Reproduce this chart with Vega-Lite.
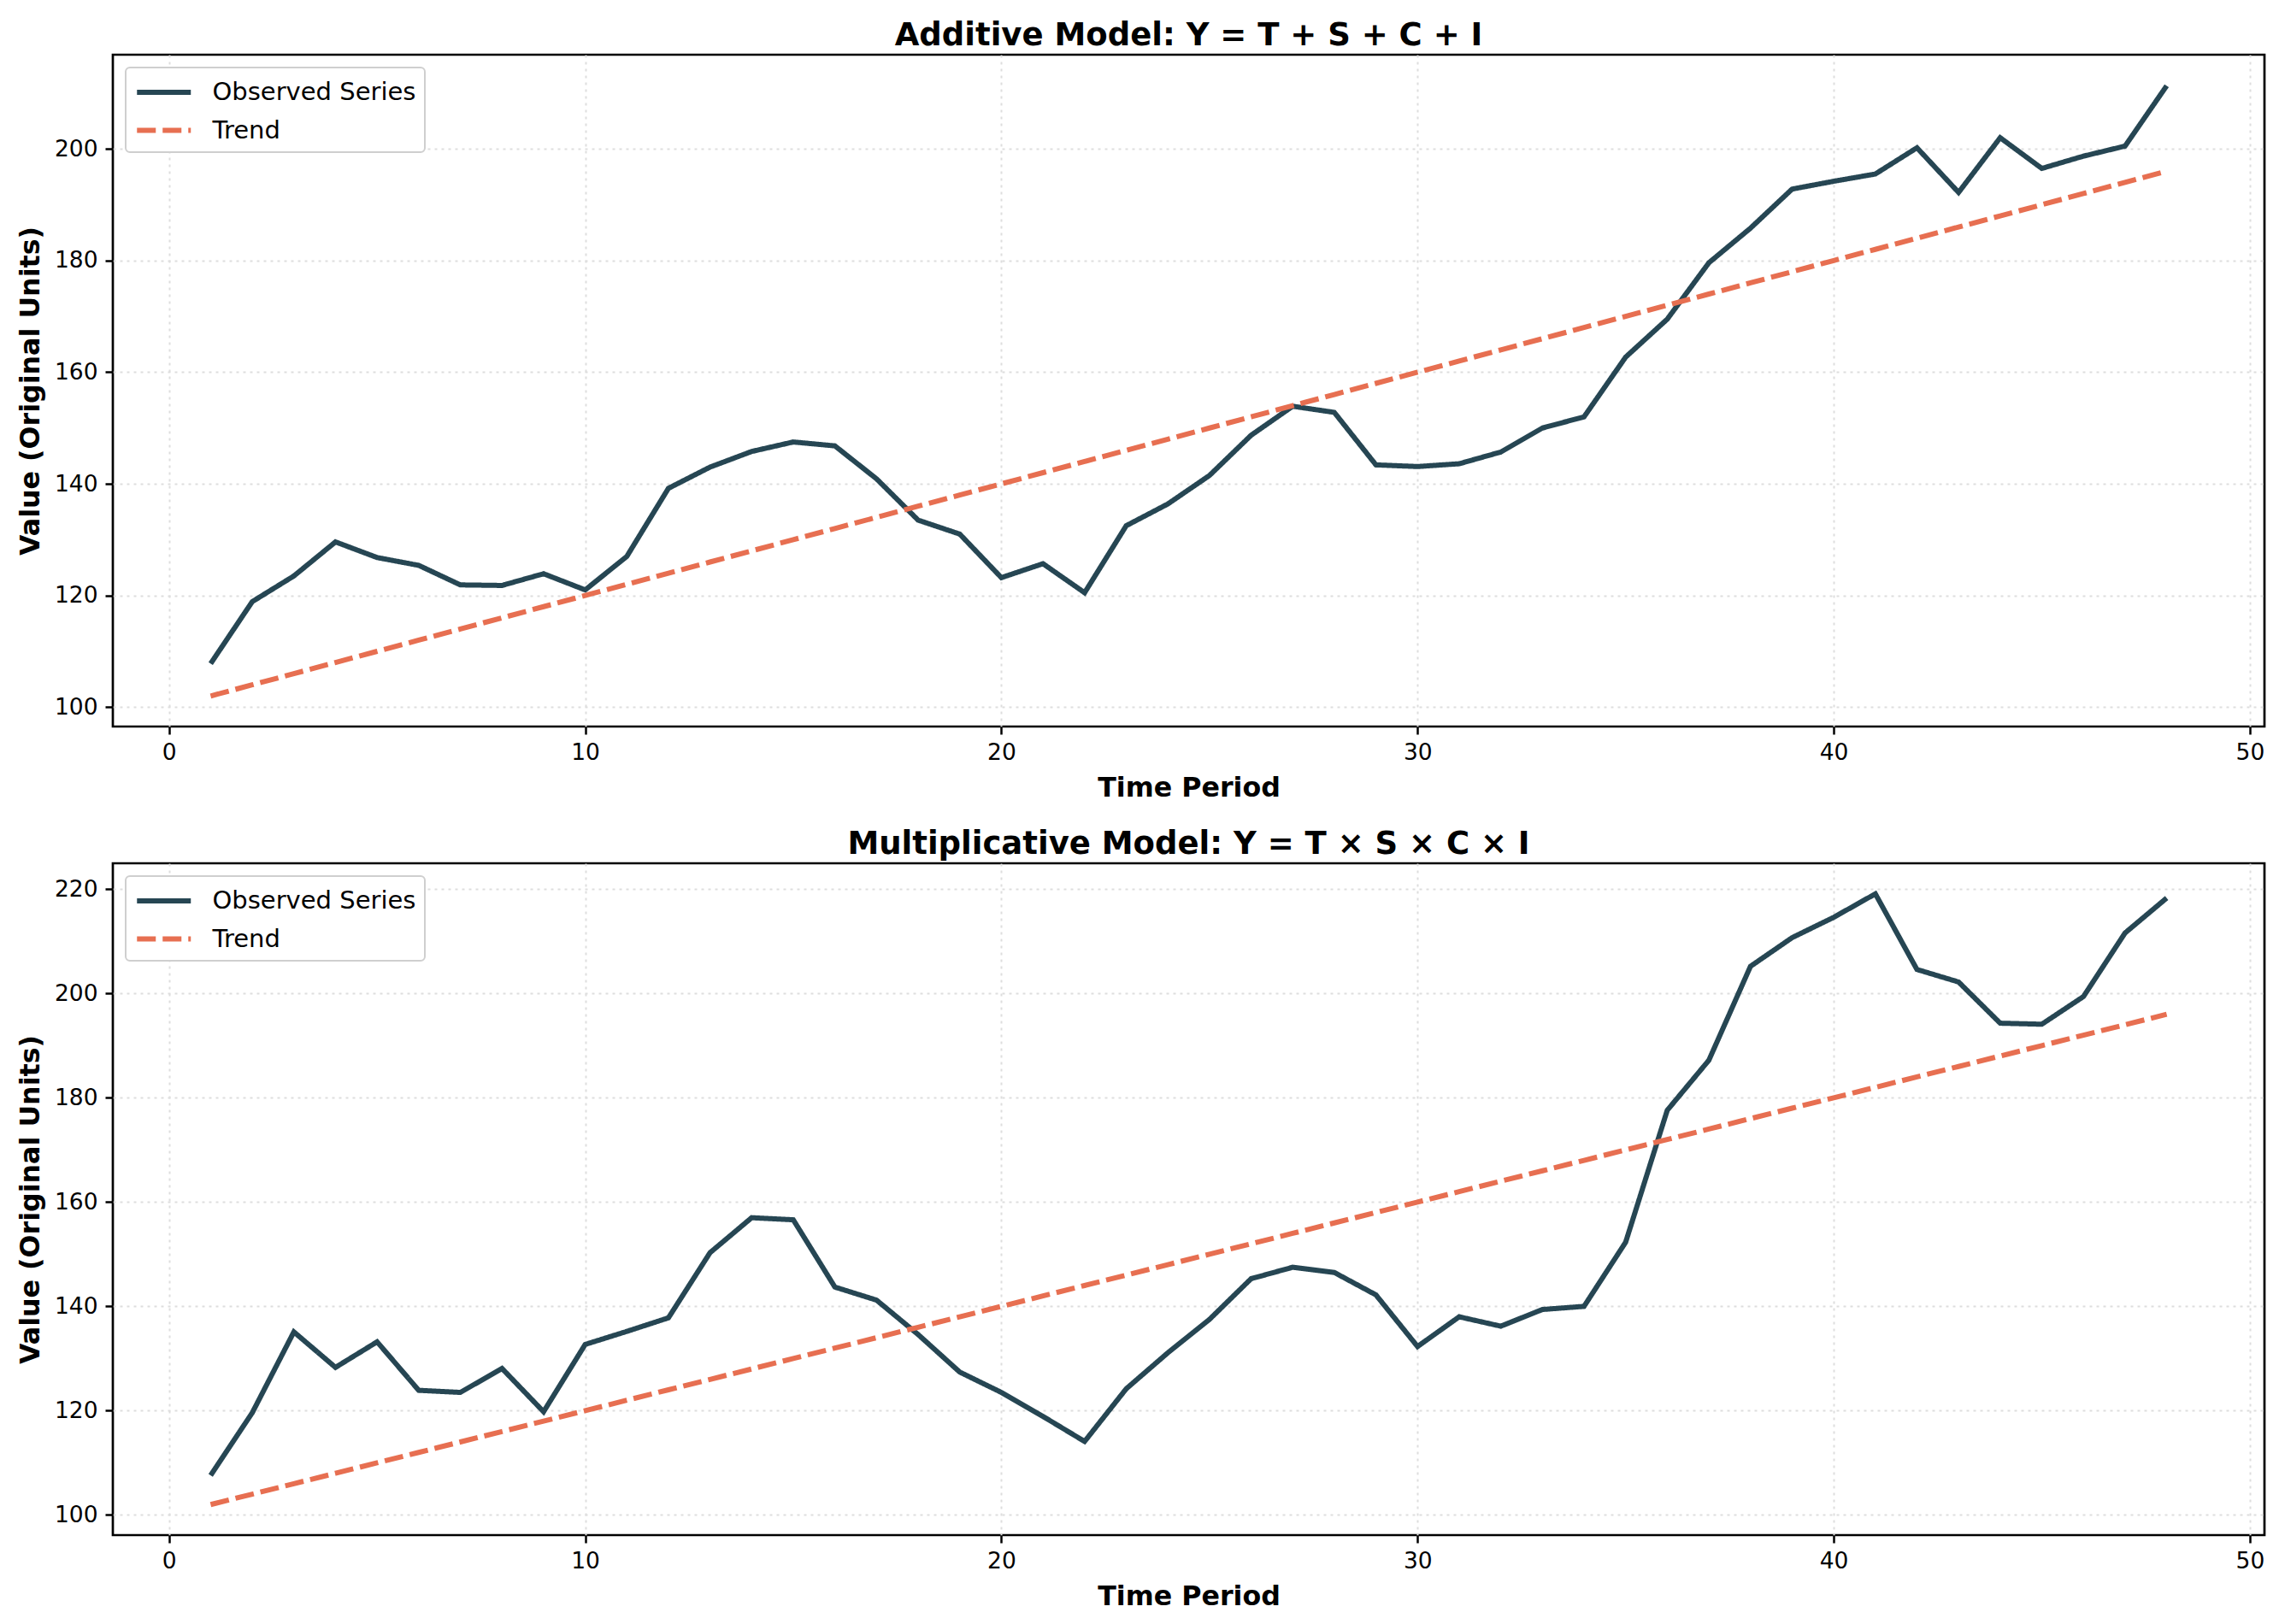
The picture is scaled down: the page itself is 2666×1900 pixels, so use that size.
{
  "$schema": "https://vega.github.io/schema/vega-lite/v6.json",
  "background": "white",
  "padding": {"left": 18, "top": 21, "right": 10, "bottom": 10},
  "spacing": 27,
  "config": {
    "font": "DejaVu Sans",
    "view": {"stroke": "black", "strokeWidth": 2.7},
    "axis": {
      "labelFont": "DejaVu Sans", "labelFontSize": 26.5, "labelColor": "black",
      "titleFont": "DejaVu Sans", "titleFontSize": 31.7, "titleFontWeight": "bold", "titleColor": "black",
      "tickColor": "black", "tickWidth": 2.5, "tickSize": 9, "labelPadding": 8,
      "domain": false,
      "grid": true, "gridColor": "#dedede", "gridDash": [3, 5], "gridWidth": 2
    },
    "axisY": {"labelPadding": 9},
    "legend": {
      "orient": "top-left", "offset": 15, "title": null,
      "labelFont": "DejaVu Sans", "labelFontSize": 29, "labelColor": "black", "labelLimit": 0,
      "symbolType": "M-1,0H3", "symbolSize": 992, "symbolStrokeWidth": 6,
      "labelOffset": 53.5, "padding": 10, "rowPadding": 10.5,
      "strokeColor": "#cfcfcf", "fillColor": "white", "cornerRadius": 5, "strokeWidth": 2
    },
    "title": {"font": "DejaVu Sans", "fontSize": 37, "fontWeight": "bold", "color": "black", "anchor": "middle", "frame": "group", "baseline": "alphabetic", "offset": 3.5}
  },
  "datasets": {
    "additive": [
      {"t":1,"v":107.8,"s":"Observed Series"},{"t":2,"v":118.9,"s":"Observed Series"},{"t":3,"v":123.5,"s":"Observed Series"},{"t":4,"v":129.6,"s":"Observed Series"},{"t":5,"v":126.8,"s":"Observed Series"},{"t":6,"v":125.4,"s":"Observed Series"},{"t":7,"v":121.9,"s":"Observed Series"},{"t":8,"v":121.8,"s":"Observed Series"},{"t":9,"v":123.9,"s":"Observed Series"},{"t":10,"v":121.0,"s":"Observed Series"},
      {"t":11,"v":127.0,"s":"Observed Series"},{"t":12,"v":139.2,"s":"Observed Series"},{"t":13,"v":143.0,"s":"Observed Series"},{"t":14,"v":145.8,"s":"Observed Series"},{"t":15,"v":147.5,"s":"Observed Series"},{"t":16,"v":146.8,"s":"Observed Series"},{"t":17,"v":140.9,"s":"Observed Series"},{"t":18,"v":133.5,"s":"Observed Series"},{"t":19,"v":131.0,"s":"Observed Series"},{"t":20,"v":123.2,"s":"Observed Series"},
      {"t":21,"v":125.7,"s":"Observed Series"},{"t":22,"v":120.5,"s":"Observed Series"},{"t":23,"v":132.5,"s":"Observed Series"},{"t":24,"v":136.4,"s":"Observed Series"},{"t":25,"v":141.5,"s":"Observed Series"},{"t":26,"v":148.7,"s":"Observed Series"},{"t":27,"v":153.9,"s":"Observed Series"},{"t":28,"v":152.8,"s":"Observed Series"},{"t":29,"v":143.4,"s":"Observed Series"},{"t":30,"v":143.1,"s":"Observed Series"},
      {"t":31,"v":143.6,"s":"Observed Series"},{"t":32,"v":145.7,"s":"Observed Series"},{"t":33,"v":150.0,"s":"Observed Series"},{"t":34,"v":152.0,"s":"Observed Series"},{"t":35,"v":162.7,"s":"Observed Series"},{"t":36,"v":169.5,"s":"Observed Series"},{"t":37,"v":179.6,"s":"Observed Series"},{"t":38,"v":185.8,"s":"Observed Series"},{"t":39,"v":192.8,"s":"Observed Series"},{"t":40,"v":194.2,"s":"Observed Series"},
      {"t":41,"v":195.5,"s":"Observed Series"},{"t":42,"v":200.2,"s":"Observed Series"},{"t":43,"v":192.2,"s":"Observed Series"},{"t":44,"v":202.0,"s":"Observed Series"},{"t":45,"v":196.5,"s":"Observed Series"},{"t":46,"v":198.7,"s":"Observed Series"},{"t":47,"v":200.5,"s":"Observed Series"},{"t":48,"v":211.3,"s":"Observed Series"},
      {"t":1,"v":102,"s":"Trend"},{"t":2,"v":104,"s":"Trend"},{"t":3,"v":106,"s":"Trend"},{"t":4,"v":108,"s":"Trend"},{"t":5,"v":110,"s":"Trend"},{"t":6,"v":112,"s":"Trend"},{"t":7,"v":114,"s":"Trend"},{"t":8,"v":116,"s":"Trend"},{"t":9,"v":118,"s":"Trend"},{"t":10,"v":120,"s":"Trend"},
      {"t":11,"v":122,"s":"Trend"},{"t":12,"v":124,"s":"Trend"},{"t":13,"v":126,"s":"Trend"},{"t":14,"v":128,"s":"Trend"},{"t":15,"v":130,"s":"Trend"},{"t":16,"v":132,"s":"Trend"},{"t":17,"v":134,"s":"Trend"},{"t":18,"v":136,"s":"Trend"},{"t":19,"v":138,"s":"Trend"},{"t":20,"v":140,"s":"Trend"},
      {"t":21,"v":142,"s":"Trend"},{"t":22,"v":144,"s":"Trend"},{"t":23,"v":146,"s":"Trend"},{"t":24,"v":148,"s":"Trend"},{"t":25,"v":150,"s":"Trend"},{"t":26,"v":152,"s":"Trend"},{"t":27,"v":154,"s":"Trend"},{"t":28,"v":156,"s":"Trend"},{"t":29,"v":158,"s":"Trend"},{"t":30,"v":160,"s":"Trend"},
      {"t":31,"v":162,"s":"Trend"},{"t":32,"v":164,"s":"Trend"},{"t":33,"v":166,"s":"Trend"},{"t":34,"v":168,"s":"Trend"},{"t":35,"v":170,"s":"Trend"},{"t":36,"v":172,"s":"Trend"},{"t":37,"v":174,"s":"Trend"},{"t":38,"v":176,"s":"Trend"},{"t":39,"v":178,"s":"Trend"},{"t":40,"v":180,"s":"Trend"},
      {"t":41,"v":182,"s":"Trend"},{"t":42,"v":184,"s":"Trend"},{"t":43,"v":186,"s":"Trend"},{"t":44,"v":188,"s":"Trend"},{"t":45,"v":190,"s":"Trend"},{"t":46,"v":192,"s":"Trend"},{"t":47,"v":194,"s":"Trend"},{"t":48,"v":196,"s":"Trend"}
    ],
    "multiplicative": [
      {"t":1,"v":107.6,"s":"Observed Series"},{"t":2,"v":119.6,"s":"Observed Series"},{"t":3,"v":135.1,"s":"Observed Series"},{"t":4,"v":128.3,"s":"Observed Series"},{"t":5,"v":133.2,"s":"Observed Series"},{"t":6,"v":123.9,"s":"Observed Series"},{"t":7,"v":123.5,"s":"Observed Series"},{"t":8,"v":128.1,"s":"Observed Series"},{"t":9,"v":119.8,"s":"Observed Series"},{"t":10,"v":132.7,"s":"Observed Series"},
      {"t":11,"v":135.2,"s":"Observed Series"},{"t":12,"v":137.8,"s":"Observed Series"},{"t":13,"v":150.3,"s":"Observed Series"},{"t":14,"v":157.0,"s":"Observed Series"},{"t":15,"v":156.6,"s":"Observed Series"},{"t":16,"v":143.7,"s":"Observed Series"},{"t":17,"v":141.2,"s":"Observed Series"},{"t":18,"v":134.6,"s":"Observed Series"},{"t":19,"v":127.4,"s":"Observed Series"},{"t":20,"v":123.5,"s":"Observed Series"},
      {"t":21,"v":118.9,"s":"Observed Series"},{"t":22,"v":114.1,"s":"Observed Series"},{"t":23,"v":124.2,"s":"Observed Series"},{"t":24,"v":131.1,"s":"Observed Series"},{"t":25,"v":137.5,"s":"Observed Series"},{"t":26,"v":145.3,"s":"Observed Series"},{"t":27,"v":147.5,"s":"Observed Series"},{"t":28,"v":146.5,"s":"Observed Series"},{"t":29,"v":142.2,"s":"Observed Series"},{"t":30,"v":132.3,"s":"Observed Series"},
      {"t":31,"v":138.0,"s":"Observed Series"},{"t":32,"v":136.2,"s":"Observed Series"},{"t":33,"v":139.4,"s":"Observed Series"},{"t":34,"v":140.0,"s":"Observed Series"},{"t":35,"v":152.3,"s":"Observed Series"},{"t":36,"v":177.6,"s":"Observed Series"},{"t":37,"v":187.2,"s":"Observed Series"},{"t":38,"v":205.2,"s":"Observed Series"},{"t":39,"v":210.7,"s":"Observed Series"},{"t":40,"v":214.6,"s":"Observed Series"},
      {"t":41,"v":219.1,"s":"Observed Series"},{"t":42,"v":204.6,"s":"Observed Series"},{"t":43,"v":202.2,"s":"Observed Series"},{"t":44,"v":194.3,"s":"Observed Series"},{"t":45,"v":194.1,"s":"Observed Series"},{"t":46,"v":199.4,"s":"Observed Series"},{"t":47,"v":211.6,"s":"Observed Series"},{"t":48,"v":218.3,"s":"Observed Series"},
      {"t":1,"v":102,"s":"Trend"},{"t":2,"v":104,"s":"Trend"},{"t":3,"v":106,"s":"Trend"},{"t":4,"v":108,"s":"Trend"},{"t":5,"v":110,"s":"Trend"},{"t":6,"v":112,"s":"Trend"},{"t":7,"v":114,"s":"Trend"},{"t":8,"v":116,"s":"Trend"},{"t":9,"v":118,"s":"Trend"},{"t":10,"v":120,"s":"Trend"},
      {"t":11,"v":122,"s":"Trend"},{"t":12,"v":124,"s":"Trend"},{"t":13,"v":126,"s":"Trend"},{"t":14,"v":128,"s":"Trend"},{"t":15,"v":130,"s":"Trend"},{"t":16,"v":132,"s":"Trend"},{"t":17,"v":134,"s":"Trend"},{"t":18,"v":136,"s":"Trend"},{"t":19,"v":138,"s":"Trend"},{"t":20,"v":140,"s":"Trend"},
      {"t":21,"v":142,"s":"Trend"},{"t":22,"v":144,"s":"Trend"},{"t":23,"v":146,"s":"Trend"},{"t":24,"v":148,"s":"Trend"},{"t":25,"v":150,"s":"Trend"},{"t":26,"v":152,"s":"Trend"},{"t":27,"v":154,"s":"Trend"},{"t":28,"v":156,"s":"Trend"},{"t":29,"v":158,"s":"Trend"},{"t":30,"v":160,"s":"Trend"},
      {"t":31,"v":162,"s":"Trend"},{"t":32,"v":164,"s":"Trend"},{"t":33,"v":166,"s":"Trend"},{"t":34,"v":168,"s":"Trend"},{"t":35,"v":170,"s":"Trend"},{"t":36,"v":172,"s":"Trend"},{"t":37,"v":174,"s":"Trend"},{"t":38,"v":176,"s":"Trend"},{"t":39,"v":178,"s":"Trend"},{"t":40,"v":180,"s":"Trend"},
      {"t":41,"v":182,"s":"Trend"},{"t":42,"v":184,"s":"Trend"},{"t":43,"v":186,"s":"Trend"},{"t":44,"v":188,"s":"Trend"},{"t":45,"v":190,"s":"Trend"},{"t":46,"v":192,"s":"Trend"},{"t":47,"v":194,"s":"Trend"},{"t":48,"v":196,"s":"Trend"}
    ]
  },
  "resolve": {
    "scale": {"y": "independent", "x": "independent", "color": "independent", "strokeDash": "independent"},
    "legend": {"color": "independent", "strokeDash": "independent"}
  },
  "vconcat": [
    {
      "title": {"text": "Additive Model: Y = T + S + C + I"},
      "width": 2517, "height": 786,
      "data": {"name": "additive"},
      "mark": {"type": "line", "strokeWidth": 6, "clip": true},
      "encoding": {
        "x": {"field": "t", "type": "quantitative", "scale": {"domain": [-1.35, 50.35], "nice": false, "zero": false},
              "axis": {"title": "Time Period", "values": [0, 10, 20, 30, 40, 50], "titleBaseline": "alphabetic", "titleY": 81}},
        "y": {"field": "v", "type": "quantitative", "scale": {"domain": [96.53, 216.87], "nice": false, "zero": false},
              "axis": {"title": "Value (Original Units)", "values": [100, 120, 140, 160, 180, 200], "titleBaseline": "alphabetic", "titleAngle": -90, "titleX": -87, "titleY": 393}},
        "color": {"field": "s", "type": "nominal", "scale": {"domain": ["Observed Series", "Trend"], "range": ["#264653", "#E76F51"]}},
        "strokeDash": {"field": "s", "type": "nominal", "scale": {"domain": ["Observed Series", "Trend"], "range": [[1, 0], [22, 8]]}}
      }
    },
    {
      "title": {"text": "Multiplicative Model: Y = T × S × C × I"},
      "width": 2517, "height": 786,
      "data": {"name": "multiplicative"},
      "mark": {"type": "line", "strokeWidth": 6, "clip": true},
      "encoding": {
        "x": {"field": "t", "type": "quantitative", "scale": {"domain": [-1.35, 50.35], "nice": false, "zero": false},
              "axis": {"title": "Time Period", "values": [0, 10, 20, 30, 40, 50], "titleBaseline": "alphabetic", "titleY": 81}},
        "y": {"field": "v", "type": "quantitative", "scale": {"domain": [96.14, 224.96], "nice": false, "zero": false},
              "axis": {"title": "Value (Original Units)", "values": [100, 120, 140, 160, 180, 200, 220], "titleBaseline": "alphabetic", "titleAngle": -90, "titleX": -87, "titleY": 393}},
        "color": {"field": "s", "type": "nominal", "scale": {"domain": ["Observed Series", "Trend"], "range": ["#264653", "#E76F51"]}},
        "strokeDash": {"field": "s", "type": "nominal", "scale": {"domain": ["Observed Series", "Trend"], "range": [[1, 0], [22, 8]]}}
      }
    }
  ]
}
